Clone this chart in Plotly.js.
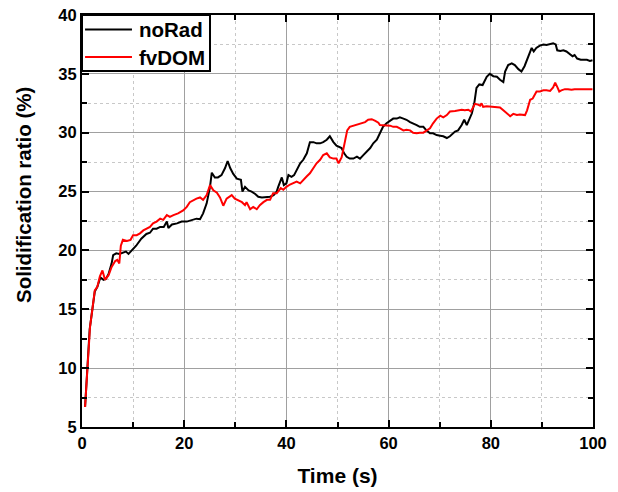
<!DOCTYPE html>
<html><head><meta charset="utf-8">
<script src="https://cdn.plot.ly/plotly-3.0.1.min.js"></script>
<style>html,body{margin:0;padding:0;background:#fff}#chart{width:618px;height:492px}</style>
</head><body><div id="chart"></div>
<script>
const tNoRad = [0.6,1.0,1.5,2.0,2.5,3.0,3.6,4.2,4.7,5.2,5.8,6.1,6.7,7.3,8.0,8.6,9.1,9.9,10.6,11.6,12.6,13.3,13.9,14.6,15.3,16.0,16.6,16.9,17.6,18.6,19.5,20.5,21.5,22.4,23.1,23.7,24.4,25.05,25.4,26.0,26.6,27.3,28.0,28.5,29.0,29.6,30.3,31.1,31.4,31.9,32.6,33.2,33.9,34.5,35.2,36.2,36.8,37.5,38.1,38.4,39.1,39.5,40.0,40.4,41.0,41.5,42.0,42.7,43.3,44.0,44.6,45.3,45.9,46.6,47.2,47.9,48.5,49.2,49.8,50.8,51.3,51.8,52.4,53.1,53.8,54.4,55.05,55.7,56.4,57.0,57.7,58.3,58.9,59.6,60.3,60.9,61.6,62.2,62.9,63.5,64.2,64.8,65.5,66.1,66.8,67.4,68.1,68.7,69.4,70.1,70.7,71.4,72.0,73.0,73.6,74.3,74.8,75.3,75.8,76.3,76.8,77.2,77.75,78.4,79.2,79.8,80.5,81.2,81.8,82.45,82.8,83.4,84.1,84.7,85.4,86.0,86.6,87.3,88.0,88.4,88.9,89.6,90.3,90.9,91.6,92.2,92.7,93.0,93.6,94.2,94.8,95.4,96.0,96.4,96.9,97.6,98.8,99.4,99.9];
const noRad = [6.7,9.3,13.3,14.9,16.5,16.9,17.7,17.5,17.6,18.0,18.9,19.6,19.75,19.7,19.8,19.9,19.7,20.1,20.4,21.0,21.4,21.5,21.85,21.85,22.0,22.0,22.45,21.9,22.2,22.3,22.45,22.45,22.6,22.7,22.65,23.15,24.0,25.4,26.6,26.2,26.2,26.4,27.0,27.6,27.0,26.5,26.1,26.0,25.0,25.4,25.1,25.0,24.8,24.56,24.5,24.5,24.56,24.7,25.0,25.4,26.2,25.55,25.7,26.4,26.25,26.4,26.8,27.4,27.7,28.25,29.2,29.2,29.1,29.1,29.2,29.4,29.7,29.2,28.9,28.7,28.25,27.96,27.8,27.8,27.96,27.8,28.1,28.4,28.7,29.1,29.4,29.95,30.5,30.8,31.0,31.2,31.2,31.3,31.2,31.1,30.9,30.8,30.65,30.5,30.5,30.2,29.95,29.95,29.8,29.75,29.7,29.55,29.7,30.1,30.2,30.65,31.1,30.65,31.1,31.65,32.6,33.8,34.1,34.05,34.75,35.0,34.8,34.75,34.5,34.3,35.2,35.75,35.9,35.75,35.4,35.2,35.65,36.45,37.2,36.9,37.2,37.4,37.5,37.45,37.5,37.6,37.5,37.0,36.95,37.0,36.9,36.7,36.5,36.6,36.3,36.2,36.2,36.1,36.15];
const tFvDOM = [0.6,1.0,1.57,2.0,2.5,3.0,3.5,4.0,4.5,5.2,5.8,6.5,6.9,7.3,7.6,8.0,8.8,9.5,10.0,10.7,11.35,12.0,12.6,13.3,13.9,14.6,15.3,15.9,16.6,17.2,17.9,18.8,19.8,20.5,21.1,21.8,22.4,23.1,23.7,24.4,25.05,25.7,26.4,27.0,27.65,28.3,29.3,29.9,30.6,31.3,31.9,32.2,32.9,33.5,34.2,34.8,35.5,36.2,36.8,37.4,38.1,38.9,39.4,40.0,40.7,41.3,42.0,42.7,43.3,44.0,44.6,45.3,45.9,46.6,47.2,47.9,48.5,49.2,49.8,50.2,50.8,51.1,51.5,51.9,52.4,53.4,54.4,55.4,56.0,56.7,57.4,58.0,58.3,59.0,59.6,60.3,60.9,61.6,62.2,62.9,63.5,64.2,64.8,65.5,66.1,66.8,67.4,68.1,68.7,69.4,70.1,70.7,71.4,72.0,73.0,73.6,74.3,74.9,75.6,76.1,76.6,76.9,77.4,77.9,78.2,78.5,79.2,80.2,81.2,81.8,82.45,83.1,83.8,84.4,85.1,85.7,86.7,87.1,87.7,88.2,88.6,88.95,89.6,90.3,90.9,91.6,92.2,92.6,93.0,93.4,93.8,94.5,95.1,95.8,96.4,97.4,98.3,99.2,99.9];
const fvDOM = [6.7,9.55,13.5,14.9,16.6,16.9,17.8,18.3,17.5,17.9,18.6,19.1,19.2,18.9,20.4,20.9,20.8,20.9,21.3,21.3,21.45,21.7,21.85,22.0,22.3,22.45,22.7,22.6,23.0,22.85,23.0,23.15,23.4,23.7,24.1,24.3,24.4,24.5,24.3,24.7,25.55,25.1,24.9,24.5,23.8,24.4,24.7,24.4,24.25,24.1,23.85,24.1,23.5,23.7,23.5,23.85,24.1,24.3,24.3,24.85,24.85,25.3,25.15,25.4,25.6,25.7,25.85,25.7,26.0,26.3,26.55,27.0,27.4,27.7,28.1,28.25,27.9,27.8,27.8,27.4,27.9,28.5,29.4,30.2,30.5,30.65,30.8,30.9,31.1,31.15,31.0,30.85,30.65,30.65,30.65,30.6,30.5,30.5,30.37,30.2,30.25,30.2,30.0,29.95,30.0,30.0,30.17,30.37,30.8,31.2,31.45,31.3,31.5,31.8,31.85,31.9,31.95,31.9,31.95,31.8,32.2,32.45,32.4,32.3,32.5,32.2,32.25,32.2,32.15,32.15,31.9,31.65,31.4,31.6,31.5,31.55,31.5,31.9,32.8,32.9,33.2,33.5,33.5,33.6,33.6,33.55,33.85,34.25,33.9,33.5,33.6,33.7,33.7,33.65,33.7,33.7,33.75,33.7,33.7];
const seriesNames = ['noRad', 'fvDOM'];
const seriesColors = ['#000000', '#ff0000'];
const xTitle = 'Time (s)';
const yTitle = 'Solidification ratio (%)';

const FONT = 'Arial, "Liberation Sans", sans-serif';
const traces = [
  {x: tNoRad, y: noRad, name: seriesNames[0], mode: 'lines', line: {color: seriesColors[0], width: 2}},
  {x: tFvDOM, y: fvDOM, name: seriesNames[1], mode: 'lines', line: {color: seriesColors[1], width: 2}}
];
const axisCommon = {
  showline: true, linecolor: '#000', linewidth: 2, mirror: 'ticks',
  ticks: 'inside', ticklen: 7, tickwidth: 2, tickcolor: '#000',
  showgrid: true, gridcolor: '#a0a0a0', gridwidth: 1, zeroline: false,
  tickfont: {family: FONT, size: 16.5, color: '#000', weight: 'bold'}
};

// custom legend box (paper coordinates)
const legBox = {x0: 0, x1: 0.2505, y0: 0.864, y1: 1};
const legRows = [0.9648, 0.898];
const legLine = [0.006, 0.0978];
const legTextX = 0.1076;
const shapes = [{type: 'rect', xref: 'paper', yref: 'paper', x0: legBox.x0, x1: legBox.x1, y0: legBox.y0, y1: legBox.y1,
  line: {color: '#000', width: 2}, fillcolor: '#fff', layer: 'above'}];
const annotations = [{
  text: yTitle, textangle: -90, showarrow: false,
  xref: 'paper', yref: 'paper', x: -0.1155, y: 0.563, xanchor: 'center', yanchor: 'middle',
  font: {family: FONT, size: 20.5, color: '#000', weight: 'bold'}
}];
seriesNames.forEach((nm, i) => {
  shapes.push({type: 'line', xref: 'paper', yref: 'paper', x0: legLine[0], x1: legLine[1], y0: legRows[i], y1: legRows[i],
    line: {color: seriesColors[i], width: 2}, layer: 'above'});
  annotations.push({text: nm, showarrow: false, xref: 'paper', yref: 'paper', x: legTextX, y: legRows[i],
    xanchor: 'left', yanchor: 'middle', font: {family: FONT, size: 20.5, color: '#000', weight: 'bold'}});
});

const layout = {
  width: 618, height: 492,
  margin: {l: 82, r: 25, t: 15, b: 65},
  paper_bgcolor: '#fff', plot_bgcolor: '#fff',
  showlegend: false,
  xaxis: Object.assign({}, axisCommon, {
    range: [0, 100], dtick: 20, tick0: 0,
    title: {text: xTitle, font: {family: FONT, size: 21, color: '#000', weight: 'bold'}, standoff: 18},
    minor: {dtick: 10, showgrid: true, gridcolor: '#c8c8c8', griddash: 'dot', gridwidth: 1, ticks: 'inside', ticklen: 5, tickcolor: '#000', tickwidth: 2}
  }),
  yaxis: Object.assign({}, axisCommon, {
    range: [5, 40], dtick: 5, tick0: 5,
    minor: {dtick: 2.5, showgrid: true, gridcolor: '#c8c8c8', griddash: 'dot', gridwidth: 1, ticks: 'inside', ticklen: 5, tickcolor: '#000', tickwidth: 2}
  }),
  shapes: shapes,
  annotations: annotations
};
Plotly.newPlot('chart', traces, layout, {displayModeBar: false, staticPlot: true});
</script></body></html>
